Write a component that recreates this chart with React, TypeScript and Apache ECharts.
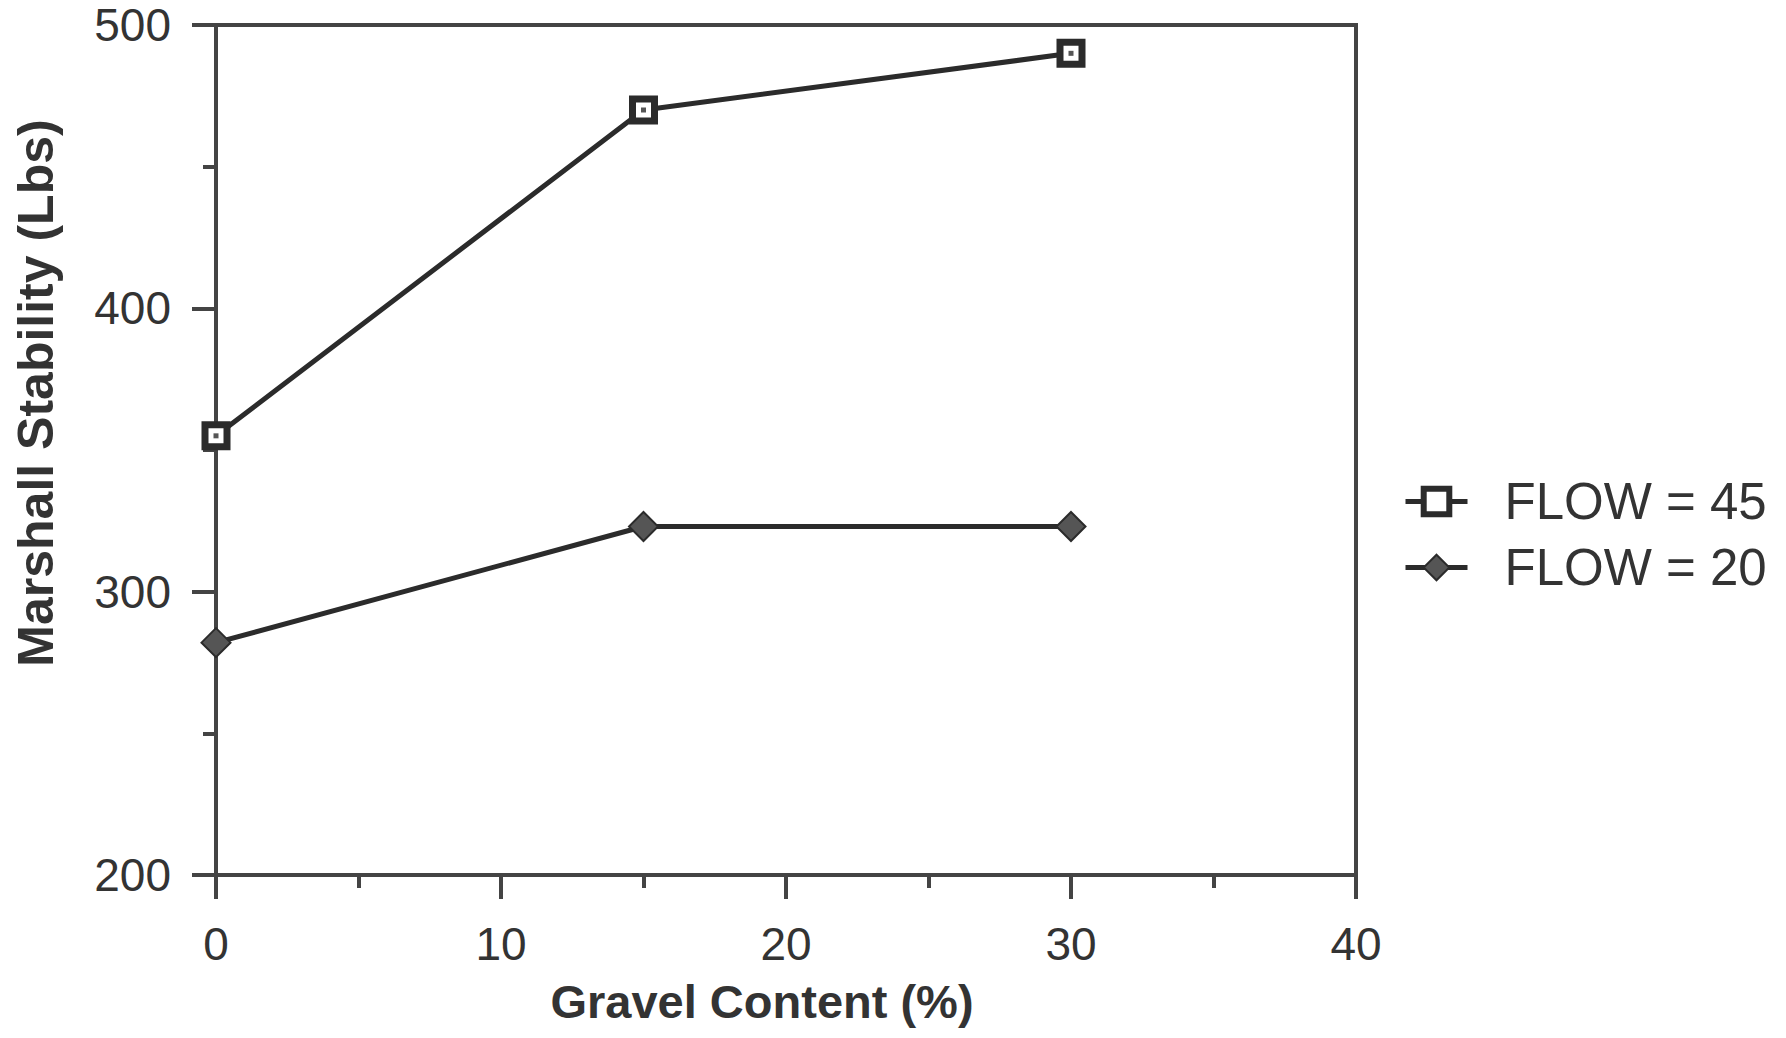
import React, { useEffect, useRef } from "react";
import * as echarts from "echarts";

const gravel = [0, 15, 30];
const flow45 = [355, 470, 490];
const flow20 = [282, 323, 323];
const xTicks = [0, 10, 20, 30, 40];
const yTicks = [200, 300, 400, 500];
const seriesNames = ["FLOW = 45", "FLOW = 20"];

const FONT = "'Liberation Sans', Arial, Helvetica, sans-serif";
const AXIS = "#444";
const INK = "#2b2b2b";

export default function App() {
  const ref = useRef<HTMLDivElement>(null);
  useEffect(() => {
    if (!ref.current) return;
    const chart = echarts.init(ref.current, undefined, { renderer: "svg" });
    const pts45 = gravel.map((g, i) => [g, flow45[i]]);
    const pts20 = gravel.map((g, i) => [g, flow20[i]]);
    chart.setOption({
      animation: false,
      backgroundColor: "#fff",
      grid: {
        left: 216,
        right: 430,
        top: 25,
        bottom: 163,
        show: true,
        borderColor: AXIS,
        borderWidth: 4,
        backgroundColor: "transparent",
      },
      xAxis: {
        type: "value",
        min: xTicks[0],
        max: xTicks[xTicks.length - 1],
        interval: 10,
        axisLine: { show: true, onZero: false, lineStyle: { color: AXIS, width: 4 } },
        axisTick: { show: true, length: 24, lineStyle: { color: AXIS, width: 4 } },
        minorTick: { show: true, splitNumber: 2, length: 13, lineStyle: { color: AXIS, width: 4 } },
        splitLine: { show: false },
        axisLabel: { margin: 46, fontSize: 46, color: "#333", fontFamily: FONT },
      },
      yAxis: {
        type: "value",
        min: yTicks[0],
        max: yTicks[yTicks.length - 1],
        interval: 100,
        axisLine: { show: true, onZero: false, lineStyle: { color: AXIS, width: 4 } },
        axisTick: { show: true, length: 24, lineStyle: { color: AXIS, width: 4 } },
        minorTick: { show: true, splitNumber: 2, length: 13, lineStyle: { color: AXIS, width: 4 } },
        splitLine: { show: false },
        axisLabel: { margin: 45, fontSize: 46, color: "#333", fontFamily: FONT },
      },
      legend: {
        data: [
          {
            name: seriesNames[0],
            itemStyle: { color: "#fff", borderColor: INK, borderWidth: 6 },
            lineStyle: { color: INK, width: 5 },
          },
          {
            name: seriesNames[1],
            itemStyle: { color: "#555", borderColor: INK, borderWidth: 2 },
            lineStyle: { color: INK, width: 5 },
          },
        ],
        orient: "vertical",
        left: 1398,
        top: 471,
        itemWidth: 62,
        itemHeight: 32,
        itemGap: 15,
        textStyle: {
          fontSize: 51,
          lineHeight: 51,
          color: "#333",
          fontFamily: FONT,
          padding: [0, 0, 0, 32],
        },
      },
      graphic: [
        {
          type: "text",
          x: 762,
          y: 1001,
          style: {
            text: "Gravel Content (%)",
            fontSize: 47,
            fontWeight: "bold",
            fontFamily: FONT,
            fill: "#333",
            align: "center",
            verticalAlign: "middle",
          },
        },
        {
          type: "text",
          x: 36,
          y: 393,
          rotation: Math.PI / 2,
          style: {
            text: "Marshall Stability (Lbs)",
            fontSize: 50,
            fontWeight: "bold",
            fontFamily: FONT,
            fill: "#333",
            align: "center",
            verticalAlign: "middle",
          },
        },
      ],
      series: [
        {
          name: seriesNames[0],
          type: "line",
          data: pts45,
          symbol: "rect",
          symbolSize: 22,
          lineStyle: { color: INK, width: 5 },
          itemStyle: { color: "#fff", borderColor: INK, borderWidth: 7 },
          z: 3,
        },
        {
          name: seriesNames[1],
          type: "line",
          data: pts20,
          symbol: "diamond",
          symbolSize: 29,
          lineStyle: { color: INK, width: 5 },
          itemStyle: { color: "#555", borderColor: INK, borderWidth: 2 },
          z: 3,
        },
        {
          name: "dot45",
          type: "scatter",
          data: pts45,
          symbol: "rect",
          symbolSize: 5,
          itemStyle: { color: INK },
          silent: true,
          z: 5,
        },
      ],
    });
    return () => chart.dispose();
  }, []);
  return (
    <div
      ref={ref}
      style={{ position: "fixed", left: 0, top: 0, width: 1786, height: 1038 }}
    />
  );
}
